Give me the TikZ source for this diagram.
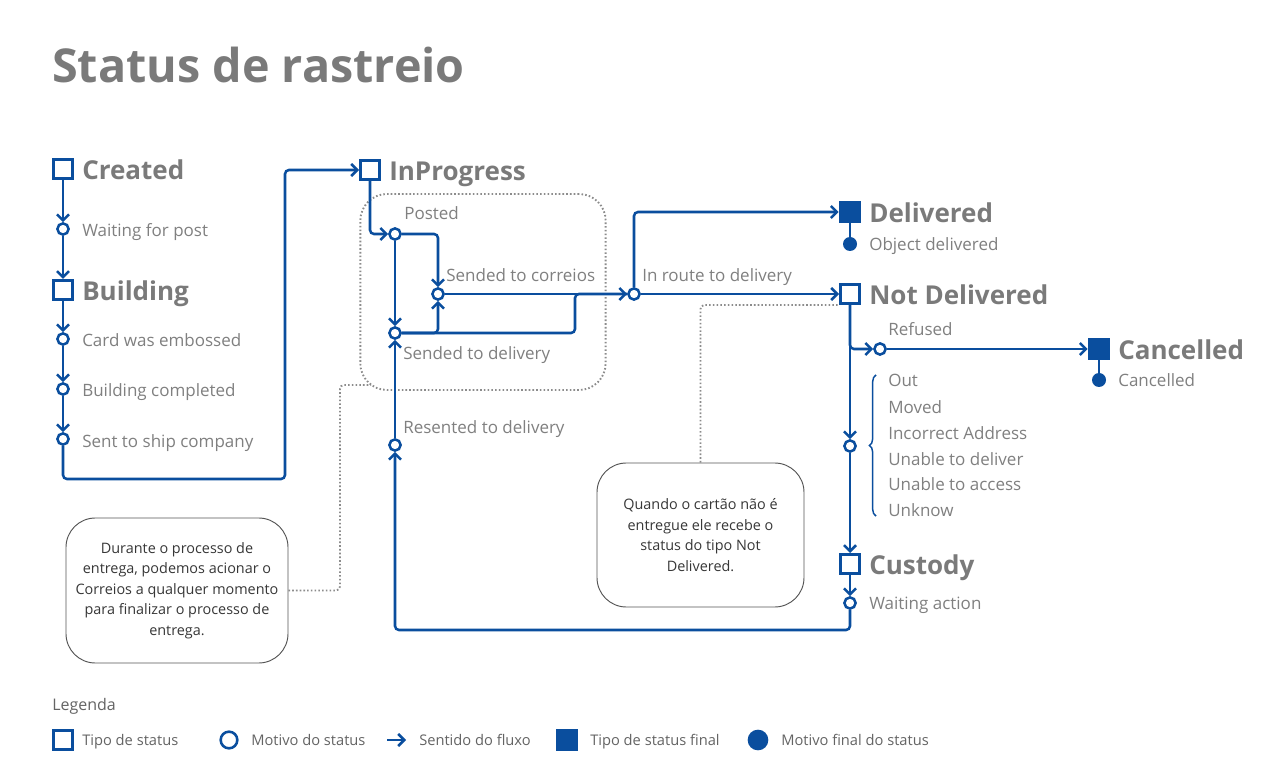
\documentclass[tikz,border=0pt]{standalone}
\usepackage{fontspec}
\setmainfont{Open Sans}
\usetikzlibrary{arrows.meta,decorations.pathreplacing}
\definecolor{fblue}{RGB}{10,78,158}
\definecolor{tgray}{RGB}{128,128,128}
\definecolor{sgray}{RGB}{122,122,122}
\definecolor{ngray}{RGB}{55,55,55}
\definecolor{dgray}{RGB}{140,140,140}
\definecolor{lgray}{RGB}{100,100,100}
\begin{document}
\begin{tikzpicture}[x=0.75pt,y=-0.75pt,
 stat/.style={draw=fblue, line width=1.9pt, minimum size=14.6pt, inner sep=0pt, fill=white},
 statfin/.style={fill=fblue, minimum size=16.5pt, inner sep=0pt},
 reason/.style={circle, draw=fblue, line width=1.9pt, minimum size=8.4pt, inner sep=0pt, fill=white},
 reasonfin/.style={circle, fill=fblue, minimum size=10.5pt, inner sep=0pt},
 slabel/.style={anchor=base west, font=\fontsize{19.5pt}{23pt}\selectfont\bfseries, text=sgray, inner sep=0pt},
 rlabel/.style={anchor=base west, font=\fontsize{12.75pt}{15pt}\selectfont, text=tgray, inner sep=0pt},
 leglabel/.style={anchor=base west, font=\fontsize{11pt}{13pt}\selectfont, text=lgray, inner sep=0pt},
 flow/.style={draw=fblue, line width=1.9pt, -{Straight Barb[length=4.5pt,width=9pt]}, rounded corners=3pt},
 link/.style={draw=fblue, line width=1.9pt, rounded corners=3pt},
 note/.style={draw=ngray!85, line width=0.7pt, rounded corners=22pt, text=ngray, align=center, font=\fontsize{10.8pt}{15.4pt}\selectfont, inner sep=0pt},
 dots/.style={draw=dgray, line width=1.4pt, dash pattern=on 1.2pt off 1.6pt, rounded corners=3pt},
]
\fill[white] (0,0) rectangle (1275,784);
\useasboundingbox (0,0) rectangle (1275,784);

\node[anchor=base west, font=\fontsize{35pt}{40pt}\selectfont\bfseries, text=sgray, inner sep=0pt] (title) at (52,83) {Status de rastreio};

% group box
\node[draw=dgray, line width=1.4pt, dash pattern=on 1.2pt off 1.6pt, rounded corners=20pt, minimum width=184pt, minimum height=147pt, inner sep=0pt] (grp) at (483,292) {};

% left column
\node[stat] (created) at (63,169) {};
\node[slabel] (lcreated) at (82,179.5) {Created};
\node[reason] (wfp) at (63,229) {};
\node[rlabel] (lwfp) at (82,237) {Waiting for post};
\node[stat] (building) at (63,290) {};
\node[slabel] (lbuilding) at (82,300.5) {Building};
\node[reason] (emb) at (63,339) {};
\node[rlabel] (lemb) at (82,347) {Card was embossed};
\node[reason] (bcomp) at (63,389) {};
\node[rlabel] (lbcomp) at (82,397) {Building completed};
\node[reason] (ship) at (63,439) {};
\node[rlabel] (lship) at (82,447) {Sent to ship company};
\coordinate (c1) at (285,479);

% in progress
\node[stat] (inprog) at (370,170) {};
\node[slabel] (linprog) at (389,180.5) {InProgress};
\node[reason] (posted) at (395,234) {};
\node[rlabel] (lposted) at (404,220) {Posted};
\node[reason] (scorr) at (438,294) {};
\node[rlabel] (lscorr) at (446,282) {Sended to correios};
\node[reason] (sdel) at (395,333) {};
\node[rlabel] (lsdel) at (403,359) {Sended to delivery};
\node[reason] (resent) at (395,445) {};
\node[rlabel] (lresent) at (403,433) {Resented to delivery};
\node[reason] (inroute) at (634,294) {};
\node[rlabel] (linroute) at (642,282) {In route to delivery};
\coordinate (j2) at (575,294);
\coordinate (c2) at (395,630);

% right column
\node[statfin] (deliv) at (850,212) {};
\node[slabel] (ldeliv) at (869,222.5) {Delivered};
\node[reasonfin] (objdel) at (850,244) {};
\node[rlabel] (lobjdel) at (869,251) {Object delivered};
\node[stat] (notdel) at (850,294) {};
\node[slabel] (lnotdel) at (869,304.5) {Not Delivered};
\node[reason] (refused) at (880,349) {};
\node[rlabel] (lrefused) at (888,336) {Refused};
\node[statfin] (canc) at (1099,349) {};
\node[slabel] (lcanc) at (1118,359.5) {Cancelled};
\node[reasonfin] (cancdot) at (1099,380) {};
\node[rlabel] (lcancdot) at (1118,387) {Cancelled};
\node[reason] (multi) at (850,446) {};
\node[rlabel] (m1) at (888,387) {Out};
\node[rlabel] (m2) at (888,413) {Moved};
\node[rlabel] (m3) at (888,439) {Incorrect Address};
\node[rlabel] (m4) at (888,465) {Unable to deliver};
\node[rlabel] (m5) at (888,490) {Unable to access};
\node[rlabel] (m6) at (888,516) {Unknow};
\node[stat] (custody) at (850,564) {};
\node[slabel] (lcustody) at (869,574.5) {Custody};
\node[reason] (waiting) at (850,603) {};
\node[rlabel] (lwaiting) at (869,609) {Waiting action};

\draw[fblue, line width=1.1pt, decorate, decoration={brace, amplitude=5pt}] (876,516) -- (876,375);

% flows
\draw[flow] (created) -- (wfp);
\draw[flow] (wfp) -- (building);
\draw[flow] (building) -- (emb);
\draw[flow] (emb) -- (bcomp);
\draw[flow] (bcomp) -- (ship);
\draw[flow] (ship.south) |- (c1) |- (inprog.west);
\draw[flow] (inprog.south) |- (posted.west);
\draw[flow] (posted.east) -| (scorr.north);
\draw[flow] (posted) -- (sdel);
\draw[flow] (sdel.east) -| (scorr.south);
\draw[link] (sdel.east) -| (j2) -- (inroute.west);
\draw[flow] (scorr) -- (inroute);
\draw[flow] (inroute.north) |- (deliv.west);
\draw[flow] (inroute) -- (notdel);
\draw[link] (deliv) -- (objdel);
\draw[flow] (notdel.south) |- (refused.west);
\draw[flow] (refused) -- (canc);
\draw[link] (canc) -- (cancdot);
\draw[flow] (notdel) -- (multi);
\draw[flow] (multi) -- (custody);
\draw[flow] (custody) -- (waiting);
\draw[flow] (waiting.south) |- (c2) -- (resent.south);
\draw[flow] (resent) -- (sdel);

% notes
\node[note, minimum width=166.5pt, minimum height=108.75pt] (note1) at (177,590.5) {Durante o processo de\\ entrega, podemos acionar o\\ Correios a qualquer momento\\ para finalizar o processo de\\ entrega.};
\coordinate (d1) at (340,385);
\coordinate (gc) at (371,385);
\draw[dots] (note1.east) -| (d1) -- (gc);

\node[note, minimum width=155.25pt, minimum height=108pt] (note2) at (700.5,535) {Quando o cartão não é\\ entregue ele recebe o\\ status do tipo Not\\ Delivered.};
\coordinate (nd) at (838,305);
\draw[dots] (note2.north) |- (nd);

% legend
\node[anchor=base west, font=\fontsize{12pt}{14pt}\selectfont, text=lgray, inner sep=0pt] (leg) at (52,710) {Legenda};
\node[stat] (lg1) at (63,740) {};
\node[leglabel] (lt1) at (82,745) {Tipo de status};
\node[reason, minimum size=12.5pt] (lg2) at (229,740) {};
\node[leglabel] (lt2) at (251,745) {Motivo do status};
\coordinate (la1) at (387,740);
\coordinate (la2) at (406,740);
\draw[flow] (la1) -- (la2);
\node[leglabel] (lt3) at (419,745) {Sentido do fluxo};
\node[statfin] (lg4) at (567,740) {};
\node[leglabel] (lt4) at (590,745) {Tipo de status final};
\node[reasonfin, minimum size=15.5pt] (lg5) at (758,740) {};
\node[leglabel] (lt5) at (781,745) {Motivo final do status};
\end{tikzpicture}
\end{document}
